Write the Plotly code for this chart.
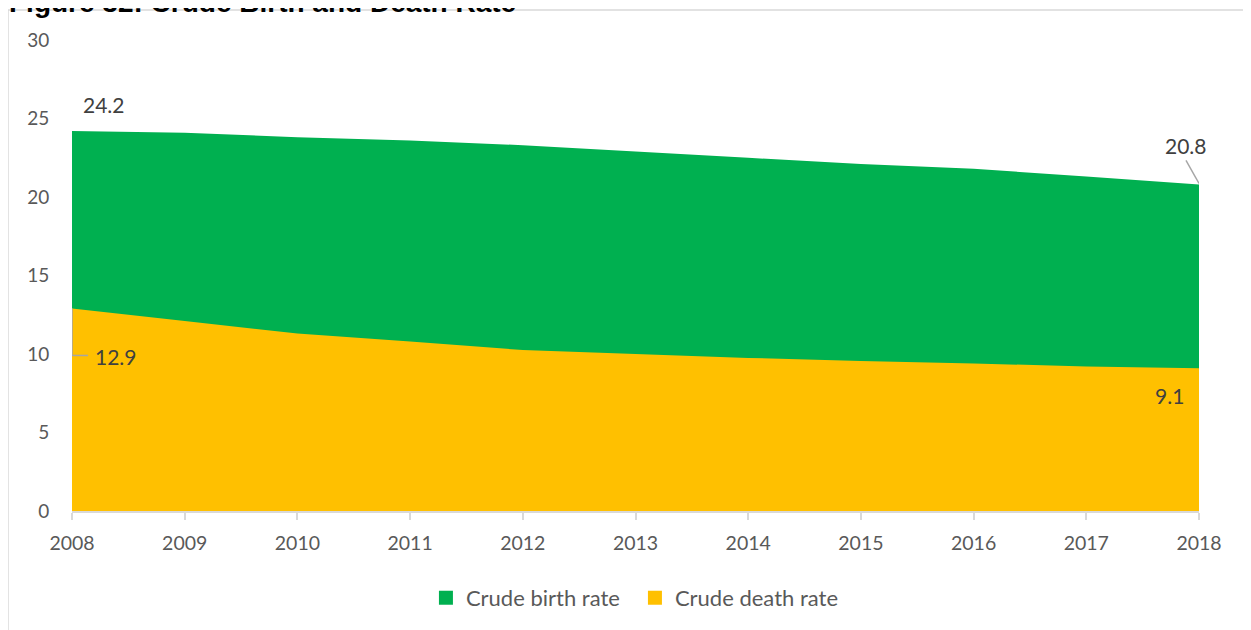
import plotly.graph_objects as go

years = [2008, 2009, 2010, 2011, 2012, 2013, 2014, 2015, 2016, 2017, 2018]
birth_rate = [24.2, 24.1, 23.8, 23.6, 23.3, 22.9, 22.5, 22.1, 21.8, 21.3, 20.8]
death_rate = [12.9, 12.1, 11.3, 10.8, 10.25, 10.0, 9.75, 9.55, 9.4, 9.2, 9.1]
series_names = ["Crude birth rate", "Crude death rate"]
y_ticks = [0, 5, 10, 15, 20, 25, 30]

GREEN = "#00B050"
YELLOW = "#FFC000"
TXT = "#595959"
FONT = "Lato"

fig = go.Figure()
for name, vals, col in [(series_names[0], birth_rate, GREEN), (series_names[1], death_rate, YELLOW)]:
    fig.add_trace(go.Scatter(x=years, y=vals, mode="none", fill="tozeroy",
                             fillcolor=col, showlegend=False, hoverinfo="x+y", name=name))
for name, col in [(series_names[0], GREEN), (series_names[1], YELLOW)]:
    fig.add_trace(go.Scatter(x=[None], y=[None], mode="markers", name=name,
                             marker=dict(symbol="square", size=14, color=col)))

lab_font = dict(family=FONT, size=21, color="#404040")
# data labels
fig.add_annotation(x=years[0], y=birth_rate[0], text=f"{birth_rate[0]:.1f}", showarrow=False,
                   xshift=32, yshift=27, font=lab_font)
fig.add_annotation(x=years[0], y=death_rate[0], text=f"{death_rate[0]:.1f}", showarrow=False,
                   xshift=44, yshift=-48, font=lab_font)
fig.add_annotation(x=years[-1], y=birth_rate[-1], text=f"{birth_rate[-1]:.1f}", showarrow=False,
                   xshift=-13, yshift=39, font=lab_font)
fig.add_annotation(x=years[-1], y=death_rate[-1], text=f"{death_rate[-1]:.1f}", showarrow=False,
                   xshift=-30, yshift=-27, font=lab_font)

lead = dict(color="#A6A6A6", width=1.5)
fig.add_shape(type="line", xref="x", yref="y", xsizemode="pixel", ysizemode="pixel",
              xanchor=years[0], yanchor=death_rate[0], x0=0, x1=0, y0=0, y1=-47, line=lead)
fig.add_shape(type="line", xref="x", yref="y", xsizemode="pixel", ysizemode="pixel",
              xanchor=years[0], yanchor=death_rate[0], x0=0, x1=16, y0=-47, y1=-47, line=lead)
fig.add_shape(type="line", xref="x", yref="y", xsizemode="pixel", ysizemode="pixel",
              xanchor=years[-1], yanchor=birth_rate[-1], x0=0, x1=-13, y0=1, y1=24, line=lead)

# chart border
fig.add_shape(type="rect", xref="paper", yref="paper", x0=-0.0568, x1=1.2, y0=-0.4, y1=1.0637,
              line=dict(color="#D9D9D9", width=1.5), fillcolor="rgba(0,0,0,0)", layer="below")

# title (partly cut off at the top, as in the reference)
fig.add_annotation(xref="paper", yref="paper", x=-0.0575, y=1.0, xanchor="left", yanchor="bottom",
                   yshift=20, text="<b>Figure 32: Crude Birth and Death Rate</b>", showarrow=False,
                   font=dict(family="Liberation Sans", size=28, color="#000000"))

fig.update_layout(
    width=1251, height=630,
    margin=dict(l=64, r=60, t=32, b=127),
    plot_bgcolor="white", paper_bgcolor="white",
    font=dict(family=FONT, size=19, color=TXT),
    xaxis=dict(range=[years[0], years[-1]], tickvals=years, ticktext=[str(y) for y in years],
               showgrid=False, zeroline=False, showline=True, linecolor="#D9D9D9", linewidth=1.5,
               ticks="outside", ticklen=7, tickcolor="#D9D9D9", tickwidth=1.5,
               ticklabelstandoff=7,
               tickfont=dict(family=FONT, size=19.5, color=TXT)),
    yaxis=dict(range=[0, 30], tickvals=y_ticks, showgrid=False, zeroline=False, showline=False,
               ticks="outside", ticklen=18, tickcolor="rgba(0,0,0,0)",
               tickfont=dict(family=FONT, size=19, color=TXT)),
    legend=dict(orientation="h", x=0.4995, xanchor="center", y=-0.14, yanchor="top",
                font=dict(family=FONT, size=22, color=TXT), itemwidth=30,
                entrywidth=164, entrywidthmode="pixels"),
    showlegend=True,
)

fig.write_html("out.html")
